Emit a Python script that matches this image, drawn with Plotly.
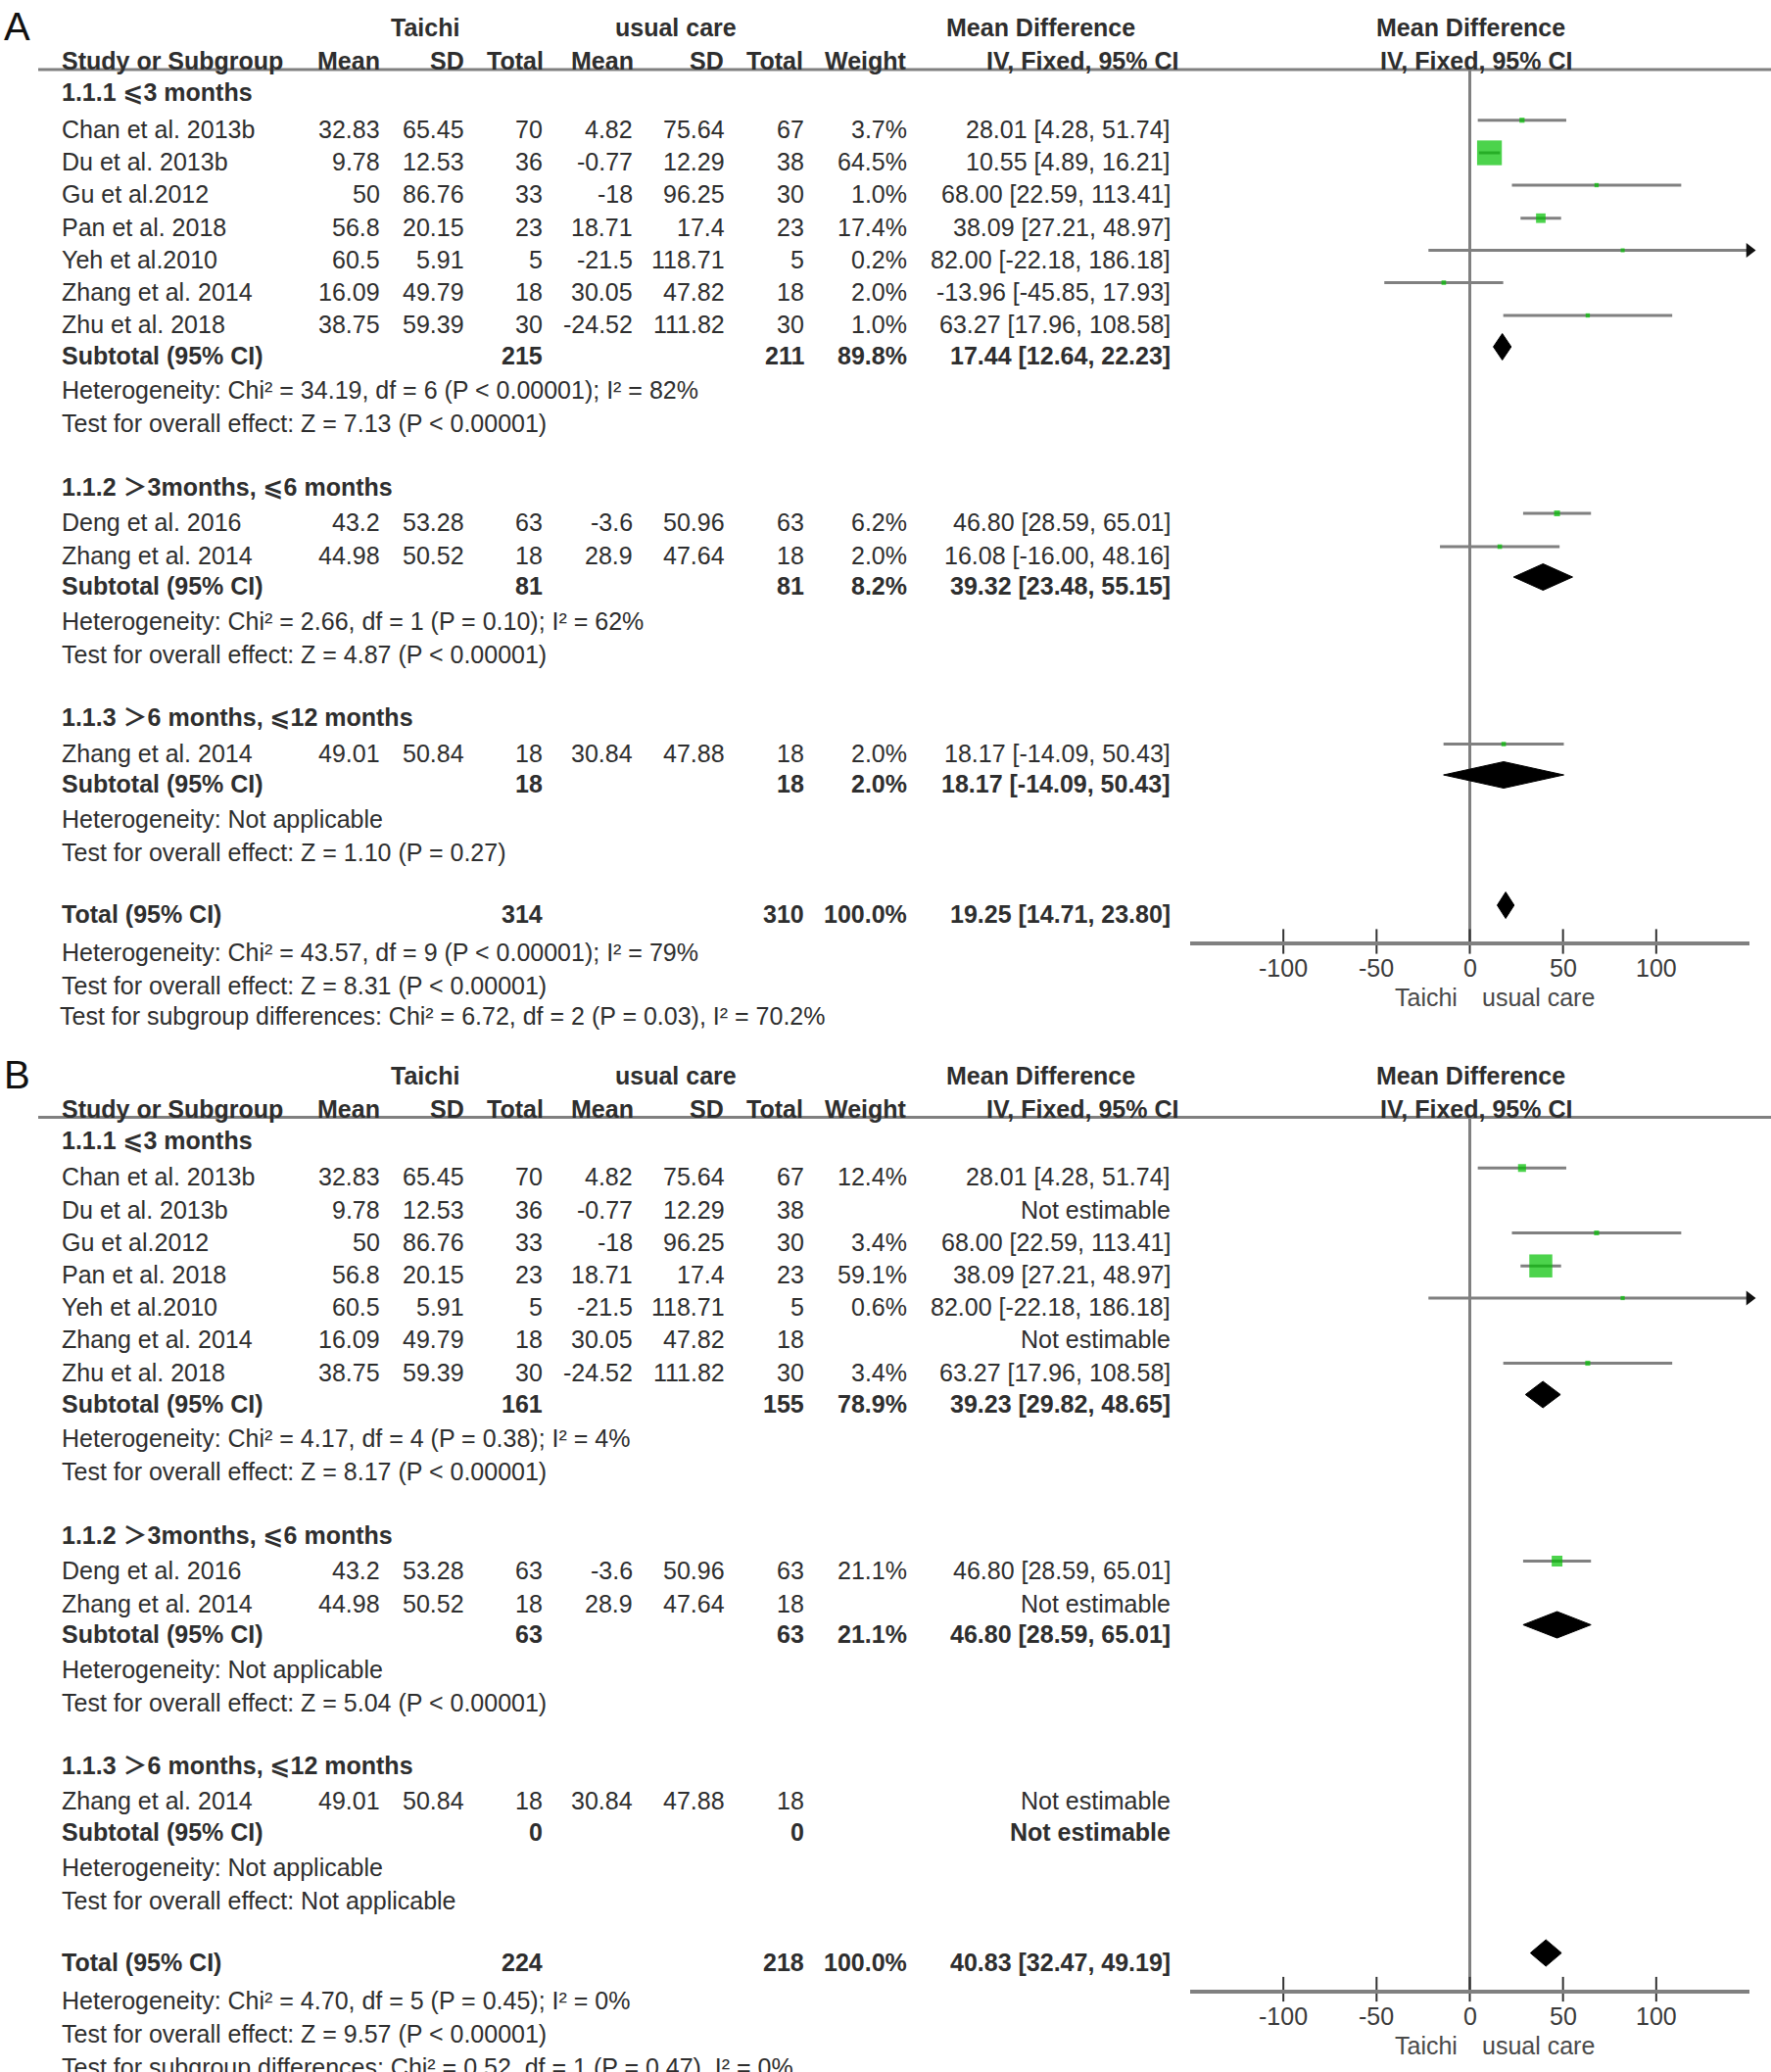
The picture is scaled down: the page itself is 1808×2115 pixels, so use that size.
import plotly.graph_objects as go

W, H = 1808, 2115

# ------------------------------------------------------------------ data
GROUP_LABELS = ["1.1.1 ⩽3 months", "1.1.2 ＞3months, ⩽6 months", "1.1.3 ＞6 months, ⩽12 months"]

G1_STUDY = ["Chan et al. 2013b", "Du et al. 2013b", "Gu et al.2012", "Pan et al. 2018",
            "Yeh et al.2010", "Zhang et al. 2014", "Zhu et al. 2018"]
G1_T_MEAN = [32.83, 9.78, 50, 56.8, 60.5, 16.09, 38.75]
G1_T_SD = [65.45, 12.53, 86.76, 20.15, 5.91, 49.79, 59.39]
G1_T_N = [70, 36, 33, 23, 5, 18, 30]
G1_U_MEAN = [4.82, -0.77, -18, 18.71, -21.5, 30.05, -24.52]
G1_U_SD = [75.64, 12.29, 96.25, 17.4, 118.71, 47.82, 111.82]
G1_U_N = [67, 38, 30, 23, 5, 18, 30]
G1_MD = [28.01, 10.55, 68.00, 38.09, 82.00, -13.96, 63.27]
G1_LO = [4.28, 4.89, 22.59, 27.21, -22.18, -45.85, 17.96]
G1_HI = [51.74, 16.21, 113.41, 48.97, 186.18, 17.93, 108.58]

G2_STUDY = ["Deng et al. 2016", "Zhang et al. 2014"]
G2_T_MEAN = [43.2, 44.98]
G2_T_SD = [53.28, 50.52]
G2_T_N = [63, 18]
G2_U_MEAN = [-3.6, 28.9]
G2_U_SD = [50.96, 47.64]
G2_U_N = [63, 18]
G2_MD = [46.80, 16.08]
G2_LO = [28.59, -16.00]
G2_HI = [65.01, 48.16]

G3_STUDY = ["Zhang et al. 2014"]
G3_T_MEAN = [49.01]
G3_T_SD = [50.84]
G3_T_N = [18]
G3_U_MEAN = [30.84]
G3_U_SD = [47.88]
G3_U_N = [18]
G3_MD = [18.17]
G3_LO = [-14.09]
G3_HI = [50.43]

# panel A (all studies)
A_WEIGHT = [[3.7, 64.5, 1.0, 17.4, 0.2, 2.0, 1.0], [6.2, 2.0], [2.0]]
A_SUB_T_N = [215, 81, 18]
A_SUB_U_N = [211, 81, 18]
A_SUB_WEIGHT = [89.8, 8.2, 2.0]
A_SUB_MD = [17.44, 39.32, 18.17]
A_SUB_LO = [12.64, 23.48, -14.09]
A_SUB_HI = [22.23, 55.15, 50.43]
A_HET = ["Heterogeneity: Chi² = 34.19, df = 6 (P < 0.00001); I² = 82%",
         "Heterogeneity: Chi² = 2.66, df = 1 (P = 0.10); I² = 62%",
         "Heterogeneity: Not applicable"]
A_TEST = ["Test for overall effect: Z = 7.13 (P < 0.00001)",
          "Test for overall effect: Z = 4.87 (P < 0.00001)",
          "Test for overall effect: Z = 1.10 (P = 0.27)"]
A_TOTAL = dict(t_n=314, u_n=310, weight=100.0, md=19.25, lo=14.71, hi=23.80)
A_TOTAL_TEXT = ["Heterogeneity: Chi² = 43.57, df = 9 (P < 0.00001); I² = 79%",
                "Test for overall effect: Z = 8.31 (P < 0.00001)",
                "Test for subgroup differences: Chi² = 6.72, df = 2 (P = 0.03), I² = 70.2%"]

# panel B (None = not estimable)
B_WEIGHT = [[12.4, None, 3.4, 59.1, 0.6, None, 3.4], [21.1, None], [None]]
B_SUB_T_N = [161, 63, 0]
B_SUB_U_N = [155, 63, 0]
B_SUB_WEIGHT = [78.9, 21.1, None]
B_SUB_MD = [39.23, 46.80, None]
B_SUB_LO = [29.82, 28.59, None]
B_SUB_HI = [48.65, 65.01, None]
B_HET = ["Heterogeneity: Chi² = 4.17, df = 4 (P = 0.38); I² = 4%",
         "Heterogeneity: Not applicable",
         "Heterogeneity: Not applicable"]
B_TEST = ["Test for overall effect: Z = 8.17 (P < 0.00001)",
          "Test for overall effect: Z = 5.04 (P < 0.00001)",
          "Test for overall effect: Not applicable"]
B_TOTAL = dict(t_n=224, u_n=218, weight=100.0, md=40.83, lo=32.47, hi=49.19)
B_TOTAL_TEXT = ["Heterogeneity: Chi² = 4.70, df = 5 (P = 0.45); I² = 0%",
                "Test for overall effect: Z = 9.57 (P < 0.00001)",
                "Test for subgroup differences: Chi² = 0.52, df = 1 (P = 0.47), I² = 0%"]

TICKS = [-100, -50, 0, 50, 100]
X_RANGE = [-150, 150]
FAVOURS = ["Taichi", "usual care"]

# ------------------------------------------------------------------ layout constants
FONT = "Liberation Sans, Arial, DejaVu Sans, Noto Sans CJK SC, sans-serif"
FS = 25
TXT = "#2e2e2e"
GREY = "#808080"
GREEN = "#00c000"

COL_STUDY = 61
COL_R = dict(tmean=390, tsd=476, tn=556, umean=648, usd=742, un=823, weight=928, ci=1197)
HDR_R = dict(tmean=390, tsd=476, tn=557, umean=649, usd=741, un=822, weight=928, ci=1205)

# row cap-centre positions (panel A pixels); panel B adds OFFSET_B
GROUP_Y = [94, 497, 732]
STUDY_Y = [[131.7, 165, 198, 231.7, 264.5, 297.5, 331], [533, 567], [768.5]]
SUB_Y = [363, 598, 800]
HET_Y = [398, 634, 836]
TEST_Y = [432, 668, 870]
TOTAL_Y = 933
TOTAL_TXT_Y = [972, 1006, 1040]
MARK_SHIFT = -9
AXIS_Y = 961
LINE_Y = 71
OFFSET_B = 1069.5

annotations = []
shapes = []


def px(x):
    return x / W


def py(y):
    return 1 - y / H


def ann(text, x, y, anchor="left", bold=False, size=FS, color=TXT, xref="paper"):
    annotations.append(dict(
        text=f"<b>{text}</b>" if bold else text,
        x=px(x) if xref == "paper" else x, y=py(y), xref=xref, yref="paper",
        xanchor=anchor, yanchor="middle", showarrow=False,
        font=dict(family=FONT, size=size, color=color)))


def fmt(v):
    return f"{v:g}"


def ci_text(md, lo, hi):
    return f"{md:.2f} [{lo:.2f}, {hi:.2f}]"


GROUPS = [
    (G1_STUDY, G1_T_MEAN, G1_T_SD, G1_T_N, G1_U_MEAN, G1_U_SD, G1_U_N, G1_MD, G1_LO, G1_HI),
    (G2_STUDY, G2_T_MEAN, G2_T_SD, G2_T_N, G2_U_MEAN, G2_U_SD, G2_U_N, G2_MD, G2_LO, G2_HI),
    (G3_STUDY, G3_T_MEAN, G3_T_SD, G3_T_N, G3_U_MEAN, G3_U_SD, G3_U_N, G3_MD, G3_LO, G3_HI),
]

PANELS = [
    dict(label="A", off=0, xa="x", ya="y", weight=A_WEIGHT, sub_tn=A_SUB_T_N, sub_un=A_SUB_U_N,
         sub_w=A_SUB_WEIGHT, sub_md=A_SUB_MD, sub_lo=A_SUB_LO, sub_hi=A_SUB_HI,
         het=A_HET, test=A_TEST, total=A_TOTAL, total_text=A_TOTAL_TEXT),
    dict(label="B", off=OFFSET_B, xa="x2", ya="y2", weight=B_WEIGHT, sub_tn=B_SUB_T_N, sub_un=B_SUB_U_N,
         sub_w=B_SUB_WEIGHT, sub_md=B_SUB_MD, sub_lo=B_SUB_LO, sub_hi=B_SUB_HI,
         het=B_HET, test=B_TEST, total=B_TOTAL, total_text=B_TOTAL_TEXT),
]

fig = go.Figure()

for P in PANELS:
    o = P["off"]
    # panel letter and headers
    ann(P["label"], 2, 27 + o, size=40, color="#111")
    ann("Taichi", 434, 28.5 + o, anchor="center", bold=True)
    ann("usual care", 690, 28.5 + o, anchor="center", bold=True)
    ann("Mean Difference", 1062, 28.5 + o, anchor="center", bold=True)
    ann("Mean Difference", 1501, 28.5 + o, anchor="center", bold=True)
    hy = 62 + o
    ann("Study or Subgroup", COL_STUDY, hy, bold=True)
    for key, lab in [("tmean", "Mean"), ("tsd", "SD"), ("tn", "Total"), ("umean", "Mean"),
                     ("usd", "SD"), ("un", "Total"), ("weight", "Weight"), ("ci", "IV, Fixed, 95% CI")]:
        ann(lab, HDR_R[key], hy, anchor="right", bold=True)
    ann("IV, Fixed, 95% CI", 1507, hy, anchor="center", bold=True)
    shapes.append(dict(type="line", xref="paper", yref="paper", x0=px(39), x1=1,
                       y0=py(LINE_Y + o), y1=py(LINE_Y + o), line=dict(color=GREY, width=3)))

    ci_x, ci_y = [], []
    sq_x, sq_y, sq_s = [], [], []
    arrow_y = []
    dia_x, dia_y = [], []

    for gi, G in enumerate(GROUPS):
        study, tm, tsd, tn, um, usd, un, md, lo, hi = G
        ann(GROUP_LABELS[gi], COL_STUDY, GROUP_Y[gi] + o, bold=True)
        for si in range(len(study)):
            y = STUDY_Y[gi][si] + o
            w = P["weight"][gi][si]
            ann(study[si], COL_STUDY, y)
            for key, val in [("tmean", tm), ("tsd", tsd), ("tn", tn), ("umean", um), ("usd", usd), ("un", un)]:
                ann(fmt(val[si]), COL_R[key], y, anchor="right")
            if w is None:
                ann("Not estimable", COL_R["ci"], y, anchor="right")
                continue
            ann(f"{w:.1f}%", COL_R["weight"], y, anchor="right")
            ann(ci_text(md[si], lo[si], hi[si]), COL_R["ci"], y, anchor="right")
            my = y + MARK_SHIFT
            ci_x += [lo[si], hi[si], None]
            ci_y += [my, my, None]
            sq_x.append(md[si])
            sq_y.append(my)
            sq_s.append(4 + 0.33 * w)
            if hi[si] > X_RANGE[1]:
                arrow_y.append(my)
        # subtotal
        y = SUB_Y[gi] + o
        ann("Subtotal (95% CI)", COL_STUDY, y, bold=True)
        ann(fmt(P["sub_tn"][gi]), COL_R["tn"], y, anchor="right", bold=True)
        ann(fmt(P["sub_un"][gi]), COL_R["un"], y, anchor="right", bold=True)
        if P["sub_w"][gi] is None:
            ann("Not estimable", COL_R["ci"], y, anchor="right", bold=True)
        else:
            ann(f"{P['sub_w'][gi]:.1f}%", COL_R["weight"], y, anchor="right", bold=True)
            ann(ci_text(P["sub_md"][gi], P["sub_lo"][gi], P["sub_hi"][gi]), COL_R["ci"], y,
                anchor="right", bold=True)
            my = y + MARK_SHIFT
            dia_x += [P["sub_lo"][gi], P["sub_md"][gi], P["sub_hi"][gi], P["sub_md"][gi], P["sub_lo"][gi], None]
            dia_y += [my, my - 13.5, my, my + 13.5, my, None]
        ann(P["het"][gi], COL_STUDY, HET_Y[gi] + o)
        ann(P["test"][gi], COL_STUDY, TEST_Y[gi] + o)

    # total
    T = P["total"]
    y = TOTAL_Y + o
    ann("Total (95% CI)", COL_STUDY, y, bold=True)
    ann(fmt(T["t_n"]), COL_R["tn"], y, anchor="right", bold=True)
    ann(fmt(T["u_n"]), COL_R["un"], y, anchor="right", bold=True)
    ann(f"{T['weight']:.1f}%", COL_R["weight"], y, anchor="right", bold=True)
    ann(ci_text(T["md"], T["lo"], T["hi"]), COL_R["ci"], y, anchor="right", bold=True)
    my = y + MARK_SHIFT
    dia_x += [T["lo"], T["md"], T["hi"], T["md"], T["lo"], None]
    dia_y += [my, my - 13.5, my, my + 13.5, my, None]
    for k, t in enumerate(P["total_text"]):
        ty = TOTAL_TXT_Y[k] + o
        if P["label"] == "A" and k == 2:
            # this line is cut off by the panel boundary in the original figure
            fig.add_trace(go.Scatter(x=[COL_STUDY], y=[ty], mode="text", text=[t],
                                     textposition="middle right", cliponaxis=True,
                                     textfont=dict(family=FONT, size=FS, color=TXT),
                                     xaxis="x3", yaxis="y3", hoverinfo="skip", showlegend=False))
        else:
            ann(t, COL_STUDY, ty)

    # tick labels and favours labels
    for t in TICKS:
        ann(fmt(t), t, 988 + o, anchor="center", xref=P["xa"], color="#3a3a3a")
    ann(FAVOURS[0], 1456, 1018 + o, anchor="center", color="#4a4a4a")
    ann(FAVOURS[1], 1570, 1018 + o, anchor="center", color="#4a4a4a")

    # forest marks
    fig.add_trace(go.Scatter(x=ci_x, y=ci_y, mode="lines", line=dict(color=GREY, width=3),
                             xaxis=P["xa"], yaxis=P["ya"], hoverinfo="skip", showlegend=False))
    fig.add_trace(go.Scatter(x=sq_x, y=sq_y, mode="markers",
                             marker=dict(symbol="square", size=sq_s, color=GREEN, line=dict(width=0)),
                             xaxis=P["xa"], yaxis=P["ya"], showlegend=False))
    if arrow_y:
        fig.add_trace(go.Scatter(x=[X_RANGE[1]] * len(arrow_y), y=arrow_y, mode="markers",
                                 marker=dict(symbol="triangle-right", size=13, color="#111"),
                                 cliponaxis=False, xaxis=P["xa"], yaxis=P["ya"], showlegend=False))
    fig.add_trace(go.Scatter(x=dia_x, y=dia_y, mode="lines", fill="toself", fillcolor="#000",
                             line=dict(color="#000", width=1),
                             xaxis=P["xa"], yaxis=P["ya"], hoverinfo="skip", showlegend=False))
    fig.add_trace(go.Scatter(x=TICKS, y=[AXIS_Y + o] * len(TICKS), mode="markers",
                             marker=dict(symbol="line-ns", size=18, line=dict(width=2, color="#333")),
                             cliponaxis=False, xaxis=P["xa"], yaxis=P["ya"], hoverinfo="skip",
                             showlegend=False))

xdom = [px(1215), px(1786)]
axis_common = dict(range=X_RANGE, showline=True, linecolor=GREY, linewidth=3.5, zeroline=True,
                   zerolinecolor=GREY, zerolinewidth=3, showgrid=False, showticklabels=False,
                   ticks="", fixedrange=True, domain=xdom)
fig.update_layout(
    width=W, height=H, margin=dict(l=0, r=0, t=0, b=0),
    paper_bgcolor="white", plot_bgcolor="rgba(0,0,0,0)",
    showlegend=False,
    xaxis=dict(anchor="y", **axis_common),
    xaxis2=dict(anchor="y2", **axis_common),
    yaxis=dict(domain=[py(AXIS_Y), py(LINE_Y)], range=[AXIS_Y, LINE_Y], visible=False, fixedrange=True),
    yaxis2=dict(domain=[py(AXIS_Y + OFFSET_B), py(LINE_Y + OFFSET_B)],
                range=[AXIS_Y + OFFSET_B, LINE_Y + OFFSET_B], visible=False, fixedrange=True),
    xaxis3=dict(domain=[0, 1], range=[0, W], visible=False, anchor="y3", fixedrange=True),
    yaxis3=dict(domain=[py(1052), py(1000)], range=[1052, 1000], visible=False, anchor="x3",
                fixedrange=True),
    annotations=annotations, shapes=shapes,
)

fig.write_html("out.html", config={"displayModeBar": False},
               post_script="document.body.style.margin='0';document.body.style.padding='0';"
                           "document.documentElement.style.overflow='hidden';")
